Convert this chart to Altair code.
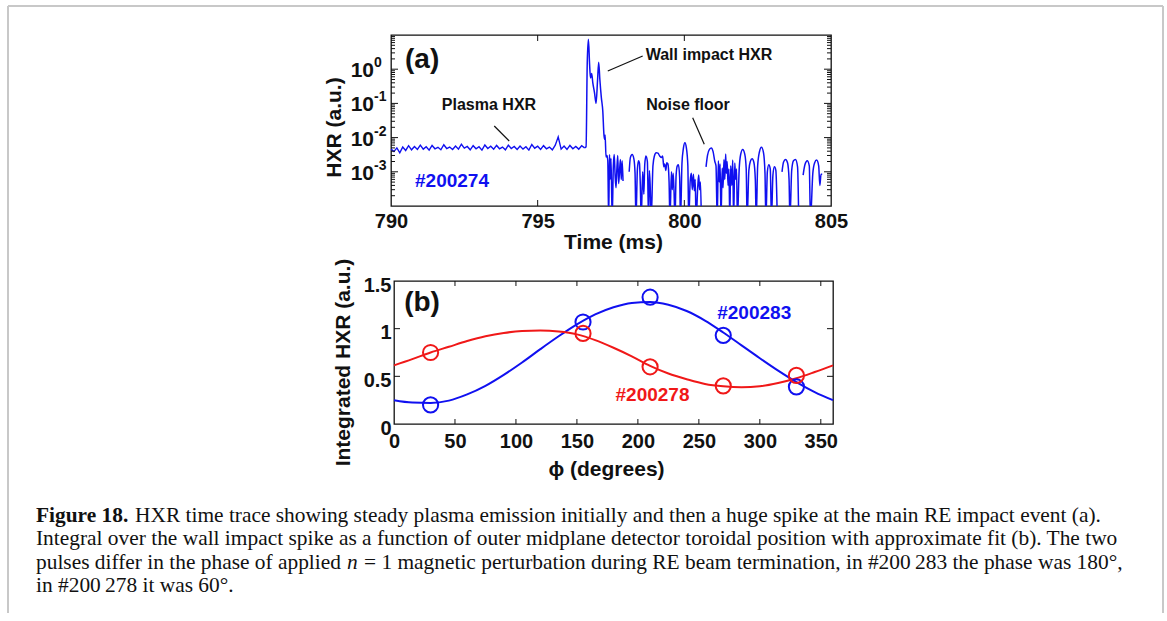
import altair as alt
import pandas as pd

SANS = "Liberation Sans, Arial, Helvetica, sans-serif"
SERIF = "Liberation Serif, Times New Roman, serif"
BLUE = "#1010f0"
RED = "#f01818"
INK = "#111111"
FRAME = "#c8c8c8"

# ---------------- panel (a): HXR time trace, shot #200274 ----------------
T_BASE = [790.0, 790.1, 790.2, 790.3, 790.4, 790.5, 790.6, 790.7, 790.8, 790.9,
          791.0, 791.1, 791.2, 791.3, 791.4, 791.5, 791.6, 791.7, 791.8, 791.9,
          792.0, 792.1, 792.2, 792.3, 792.4, 792.5, 792.6, 792.7, 792.8, 792.9,
          793.0, 793.1, 793.2, 793.3, 793.4, 793.5, 793.6, 793.7, 793.8, 793.9,
          794.0, 794.1, 794.2, 794.3, 794.4, 794.5, 794.6, 794.7, 794.8, 794.9,
          795.0, 795.1, 795.2, 795.3, 795.4, 795.5, 795.6, 795.7, 795.8, 795.9,
          796.0, 796.1, 796.2, 796.3, 796.4, 796.5, 796.6]
V_BASE = [0.0046, 0.0039, 0.0050, 0.0036, 0.0053, 0.0042, 0.0058, 0.0044, 0.0055, 0.0045,
          0.0060, 0.0046, 0.0054, 0.0043, 0.0059, 0.0047, 0.0052, 0.0044, 0.0062, 0.0048,
          0.0053, 0.0045, 0.0057, 0.0046, 0.0064, 0.0049, 0.0055, 0.0044, 0.0058, 0.0047,
          0.0054, 0.0043, 0.0061, 0.0048, 0.0056, 0.0046, 0.0059, 0.0047, 0.0053, 0.0044,
          0.0060, 0.0048, 0.0055, 0.0045, 0.0057, 0.0046, 0.0054, 0.0043, 0.0063, 0.0049,
          0.0056, 0.0045, 0.0058, 0.0047, 0.0053, 0.0044, 0.0060, 0.0105, 0.0046, 0.0057,
          0.0045, 0.0059, 0.0047, 0.0055, 0.0046, 0.0058, 0.0050]

T_SPIKE = [796.65, 796.69, 796.73, 796.77, 796.80, 796.84, 796.88, 796.94, 796.99,
           797.04, 797.08, 797.12, 797.17, 797.22, 797.26, 797.28, 797.30]
V_SPIKE = [0.0054, 1.5, 7.5, 1.4, 0.55, 0.75, 0.40, 0.20, 0.10,
           0.45, 1.6, 0.5, 0.15, 0.06, 0.012, 0.009, 0.012]

# noise floor after the impact (None = no sample / gap, 4e-5 = below the axis)
T_NOISE = [797.33, 797.36, 797.39, 797.42, 797.45, 797.47, 797.50, 797.54, 797.58, 797.61,
           797.64, 797.67, 797.70, 797.73, 797.76, 797.79, 797.82, 797.85, 797.88, 797.91,
           797.95, 798.12, 798.16, 798.22, 798.28, 798.32, 798.35, 798.40, 798.44, 798.47,
           798.50, 798.53, 798.58, 798.62, 798.65, 798.69, 798.74, 798.78, 798.81, 798.84,
           798.87, 798.93, 798.98, 799.04, 799.10, 799.16, 799.22, 799.26, 799.30, 799.33,
           799.37, 799.40, 799.44, 799.48, 799.51, 799.56, 799.59, 799.62, 799.65, 799.68,
           799.72, 799.76, 799.80, 799.84, 799.87, 799.92, 799.97, 800.02, 800.07, 800.12,
           800.15, 800.20, 800.24, 800.27, 800.31, 800.34, 800.37, 800.40, 800.46, 800.49,
           800.52, 800.55, 800.58, 800.62, 800.74, 800.79, 800.86, 800.92, 800.98, 801.04,
           801.08, 801.12, 801.16, 801.19, 801.22, 801.25, 801.29, 801.32, 801.35, 801.38,
           801.41, 801.43, 801.46, 801.49, 801.52, 801.55, 801.58, 801.62, 801.65, 801.68,
           801.72, 801.75, 801.78, 801.81, 801.87, 801.92, 801.99, 802.06, 802.11, 802.14,
           802.20, 802.25, 802.31, 802.37, 802.42, 802.45, 802.50, 802.56, 802.63, 802.70,
           802.75, 802.78, 802.83, 802.88, 802.93, 802.97, 803.02, 803.07, 803.12, 803.17,
           803.22, 803.33, 803.38, 803.45, 803.52, 803.57, 803.60, 803.66, 803.72, 803.79,
           803.86, 803.90, 803.97, 804.05, 804.11, 804.19, 804.26, 804.30, 804.38, 804.44,
           804.51, 804.58, 804.62, 804.66, 804.70]
V_NOISE = [0.0027, 0.0030, 0.0022, 4e-5, 0.0032, 0.0006, 0.0025, 4e-5, 0.0015, 0.0032,
           0.0008, 0.00034, 0.0012, 0.0030, 0.00045, 0.0010, 0.0023, 0.0006, 0.0021, 0.00054,
           None, 0.0010, 0.0026, 0.0032, 0.0024, 0.0009, 4e-5, 0.0012, 0.0021, 0.0018,
           0.0004, 4e-5, 0.0010, 0.00022, 0.0016, 0.0029, 0.0020, 4e-5, 0.0011, 0.0003,
           4e-5, 0.0015, 0.0029, 0.0036, 0.0035, 0.0029, 0.0026, 0.0029, 0.0014, 0.0017,
           0.0011, 0.00185, 0.0017, 0.0005, 4e-5, 0.0010, 0.0003, 0.0009, 0.00025, 4e-5,
           0.0008, 0.0015, 0.0016, 0.0007, 4e-5, 0.0018, 0.0050, 0.0071, 0.0050, 0.0015,
           4e-5, 0.00054, 0.0009, 0.0003, 0.00085, 0.00028, 0.0006, 4e-5, 0.0004, 0.0008,
           0.0003, 0.0005, 4e-5, None, 0.0014, 0.0030, 0.0046, 0.0050, 0.0039, 0.0020,
           0.0015, 4e-5, 0.0021, 0.0005, 0.0017, 4e-5, 0.0013, 0.00034, 0.0023, 0.0006,
           0.0033, 0.0009, 0.0020, 0.0004, 0.0012, 4e-5, 0.0015, 0.0004, 0.0022, 4e-5,
           0.0018, 0.0006, 0.0012, 4e-5, 0.0012, 0.0032, 0.0045, 0.0033, 0.0012, 4e-5,
           0.0011, 0.0020, 0.0024, 0.0019, 0.0006, 4e-5, 0.0015, 0.0038, 0.0052, 0.0036,
           0.0009, 4e-5, 0.0010, 0.0016, 0.0012, 4e-5, 0.0008, 0.0014, 0.0011, 4e-5,
           None, 0.0010, 0.0019, 0.0023, 0.0018, 0.0006, 4e-5, 0.0011, 0.0021, 0.0023,
           0.0014, 4e-5, None, 0.0008, 0.0016, 0.0021, 0.0015, 4e-5, 0.0009, 0.0018,
           0.0022, 0.0015, 0.0004, 0.00085, 0.00085]

X_LABELS_A = [790, 795, 800, 805]
X_TICKS_A = [795, 800]
Y_LABELS_A = [1.0, 0.1, 0.01, 0.001]
Y_EXP_A = ["0", "-1", "-2", "-3"]
Y_MAJOR_A = [0.001, 0.01, 0.1, 1.0]
Y_MINOR_A = [m * 10.0 ** k for k in range(-4, 1) for m in range(2, 10)]

ANN_A_TEXT = ["Plasma HXR", "Wall impact HXR", "Noise floor"]
ANN_A_T = [793.34, 800.84, 800.125]
ANN_A_V = [0.0897, 2.6, 0.0897]
LEAD_T1 = [793.52, 797.39, 800.285]
LEAD_V1 = [0.0218, 0.885, 0.0382]
LEAD_T2 = [794.03, 798.58, 800.68]
LEAD_V2 = [0.00796, 2.43, 0.00637]

# ---------------- panel (b): integrated HXR vs toroidal angle ----------------
PHI_FIT = [0, 15, 30, 45, 60, 75, 90, 105, 120, 135, 150, 165, 180,
           195, 210, 225, 240, 255, 270, 285, 300, 315, 330, 345, 360]
FIT_283 = [0.25, 0.225, 0.22, 0.245, 0.31, 0.40, 0.515, 0.645, 0.785, 0.92, 1.045, 1.15, 1.225,
           1.27, 1.28, 1.25, 1.185, 1.085, 0.96, 0.825, 0.69, 0.56, 0.44, 0.335, 0.25]
FIT_278 = [0.615, 0.68, 0.75, 0.81, 0.87, 0.92, 0.955, 0.975, 0.98, 0.97, 0.94, 0.88, 0.80,
           0.71, 0.61, 0.53, 0.47, 0.42, 0.395, 0.385, 0.395, 0.43, 0.48, 0.545, 0.615]
PHI_PTS = [30, 155, 210, 270, 330]
PTS_283 = [0.20, 1.07, 1.33, 0.93, 0.39]
PTS_278 = [0.75, 0.95, 0.60, 0.40, 0.51]
SHOTS = ["#200283", "#200278"]

X_LABELS_B = [0, 50, 100, 150, 200, 250, 300, 350]
X_TICKS_B = [50, 100, 150, 200, 250, 300, 350]
Y_LABELS_B = [0, 0.5, 1, 1.5]
Y_TICKS_B = [0.5, 1.0]

CAPTION_BOLD = "Figure 18."
CAPTION_1 = ("HXR time trace showing steady plasma emission initially and then a huge spike "
             "at the main RE impact event (a).")
CAPTION_2 = ("Integral over the wall impact spike as a function of outer midplane detector "
             "toroidal position with approximate fit (b). The two")
CAPTION_3A = "pulses differ in the phase of applied"
CAPTION_3N = "n"
CAPTION_3B = ("= 1 magnetic perturbation during RE beam termination, in #200\u2009283 "
              "the phase was 180\u00b0,")
CAPTION_4 = "in #200\u2009278 it was 60\u00b0."

# ---------------- geometry ----------------
WA, HA = 440, 171
WB, HB = 439, 143
AX = 390   # page x of panel (a) left edge
AY = 34    # page y of panel (a) top edge
BX = 393
BY = 280

lab = dict(labelFont=SANS, labelFontSize=20, labelFontWeight="bold", labelColor=INK,
           ticks=False, domain=False, grid=False, labelFlush=False, labelOverlap=False)
tit = dict(titleFont=SANS, titleFontSize=21, titleFontWeight="bold", titleColor=INK,
           titleBaseline="middle", titleAlign="center")

xa = alt.X("t:Q", scale=alt.Scale(domain=[790, 805], nice=False, zero=False),
           axis=alt.Axis(values=X_LABELS_A, format="d", labelPadding=5,
                         title="Time (ms)", titleX=222, titleY=36, **lab, **tit))
ya = alt.Y("v:Q", scale=alt.Scale(type="log", domain=[1e-4, 10], nice=False),
           axis=alt.Axis(labels=False, title="HXR (a.u.)", titleX=-57, titleY=92,
                         ticks=False, domain=False, grid=False, **tit))

# steady plasma emission: jagged, straight segments
df_base = pd.DataFrame({"t": T_BASE, "v": V_BASE})
trace_base = alt.Chart(df_base).mark_line(color=BLUE, strokeWidth=1.4, clip=True).encode(
    x=xa, y=ya)
# impact spike and noise floor: rounded humps
df_rest = pd.DataFrame({"t": T_BASE[-1:] + T_SPIKE + T_NOISE,
                        "v": V_BASE[-1:] + V_SPIKE + V_NOISE})
trace_rest = alt.Chart(df_rest).mark_line(color=BLUE, strokeWidth=1.5, clip=True,
                                          interpolate="monotone").encode(x=xa, y=ya)

df_xt = pd.DataFrame({"t": X_TICKS_A})
xt_bot = alt.Chart(df_xt).mark_rule(color=INK, strokeWidth=1).encode(
    x=xa, y=alt.value(HA), y2=alt.value(HA - 6))
xt_top = alt.Chart(df_xt).mark_rule(color=INK, strokeWidth=1).encode(
    x=xa, y=alt.value(0), y2=alt.value(6))
df_ymaj = pd.DataFrame({"v": Y_MAJOR_A})
df_ymin = pd.DataFrame({"v": Y_MINOR_A})
ymaj_l = alt.Chart(df_ymaj).mark_rule(color=INK, strokeWidth=1).encode(
    y=ya, x=alt.value(0), x2=alt.value(7))
ymaj_r = alt.Chart(df_ymaj).mark_rule(color=INK, strokeWidth=1).encode(
    y=ya, x=alt.value(WA), x2=alt.value(WA - 7))
ymin_l = alt.Chart(df_ymin).mark_rule(color=INK, strokeWidth=1).encode(
    y=ya, x=alt.value(0), x2=alt.value(4))
ymin_r = alt.Chart(df_ymin).mark_rule(color=INK, strokeWidth=1).encode(
    y=ya, x=alt.value(WA), x2=alt.value(WA - 4))

df_ylab = pd.DataFrame({"v": Y_LABELS_A, "base": ["10"] * 4, "exp": Y_EXP_A})
ylab_base = alt.Chart(df_ylab).mark_text(align="right", baseline="middle", font=SANS, fontSize=21,
                                         fontWeight="bold", color=INK, dy=2).encode(
    x=alt.value(-17), y=ya, text="base:N")
ylab_exp = alt.Chart(df_ylab).mark_text(align="left", baseline="middle", font=SANS, fontSize=14,
                                        fontWeight="bold", color=INK, dy=-6).encode(
    x=alt.value(-17), y=ya, text="exp:N")

df_ann = pd.DataFrame({"t": ANN_A_T, "v": ANN_A_V, "s": ANN_A_TEXT})
ann_a = alt.Chart(df_ann).mark_text(font=SANS, fontSize=16, fontWeight="bold", color=INK,
                                    baseline="middle").encode(x=xa, y=ya, text="s:N")
df_lead = pd.DataFrame({"t": LEAD_T1, "v": LEAD_V1, "t2": LEAD_T2, "v2": LEAD_V2})
lead = alt.Chart(df_lead).mark_rule(color=INK, strokeWidth=1.2).encode(
    x=xa, y=ya, x2="t2:Q", y2="v2:Q")
lbl_a = alt.Chart(pd.DataFrame({"t": [791.06], "v": [1.86], "s": ["(a)"]})).mark_text(
    font=SANS, fontSize=28, fontWeight="bold", color=INK, baseline="middle").encode(
    x=xa, y=ya, text="s:N")
shot_a = alt.Chart(pd.DataFrame({"t": [792.08], "v": [5.4e-4], "s": ["#200274"]})).mark_text(
    font=SANS, fontSize=19, fontWeight="bold", color=BLUE, baseline="middle").encode(
    x=xa, y=ya, text="s:N")

# page frame (light grey box around the figure)
one = pd.DataFrame({"k": [0]})
fx0, fx1, fy0, fy1 = 7 - AX, 1162 - AX, 5 - AY, 612 - AY
frame_top = alt.Chart(one).mark_rule(color=FRAME, strokeWidth=2).encode(
    x=alt.value(fx0), x2=alt.value(fx1), y=alt.value(fy0))
frame_l = alt.Chart(one).mark_rule(color=FRAME, strokeWidth=2).encode(
    x=alt.value(fx0), y=alt.value(fy0), y2=alt.value(fy1))
frame_r = alt.Chart(one).mark_rule(color=FRAME, strokeWidth=2).encode(
    x=alt.value(fx1), y=alt.value(fy0), y2=alt.value(fy1))

panel_a = alt.layer(frame_top, frame_l, frame_r, trace_base, trace_rest, xt_bot, xt_top,
                    ymaj_l, ymaj_r, ymin_l, ymin_r, ylab_base, ylab_exp, lead, ann_a,
                    lbl_a, shot_a).properties(width=WA, height=HA)

# ---------------- panel (b) ----------------
xb = alt.X("phi:Q", scale=alt.Scale(domain=[0, 360], nice=False, zero=False),
           axis=alt.Axis(values=X_LABELS_B, format="d", labelPadding=7,
                         title="\u03d5 (degrees)", titleX=212, titleY=45, **lab, **tit))
yb = alt.Y("val:Q", scale=alt.Scale(domain=[0, 1.5], nice=False, zero=False),
           axis=alt.Axis(values=Y_LABELS_B, format="~g", labelPadding=3, labelOffset=4,
                         title="Integrated HXR (a.u.)", titleX=-51, titleY=81, **lab, **tit))
cb = alt.Color("shot:N", scale=alt.Scale(domain=SHOTS, range=[BLUE, RED]), legend=None)

df_fit = pd.DataFrame({"phi": PHI_FIT * 2, "val": FIT_283 + FIT_278,
                       "shot": [SHOTS[0]] * len(PHI_FIT) + [SHOTS[1]] * len(PHI_FIT)})
df_pts = pd.DataFrame({"phi": PHI_PTS * 2, "val": PTS_283 + PTS_278,
                       "shot": [SHOTS[0]] * len(PHI_PTS) + [SHOTS[1]] * len(PHI_PTS)})
fit = alt.Chart(df_fit).mark_line(strokeWidth=2, interpolate="monotone").encode(
    x=xb, y=yb, color=cb)
pts = alt.Chart(df_pts).mark_point(shape="circle", filled=False, size=230, strokeWidth=2,
                                   opacity=1).encode(x=xb, y=yb, color=cb)

df_xtb = pd.DataFrame({"phi": X_TICKS_B})
df_ytb = pd.DataFrame({"val": Y_TICKS_B})
xtb_bot = alt.Chart(df_xtb).mark_rule(color=INK, strokeWidth=1).encode(
    x=xb, y=alt.value(HB), y2=alt.value(HB - 5))
xtb_top = alt.Chart(df_xtb).mark_rule(color=INK, strokeWidth=1).encode(
    x=xb, y=alt.value(0), y2=alt.value(5))
ytb_l = alt.Chart(df_ytb).mark_rule(color=INK, strokeWidth=1).encode(
    y=yb, x=alt.value(0), x2=alt.value(6))
ytb_r = alt.Chart(df_ytb).mark_rule(color=INK, strokeWidth=1).encode(
    y=yb, x=alt.value(WB), x2=alt.value(WB - 6))

lbl_b = alt.Chart(pd.DataFrame({"phi": [23], "val": [1.27], "s": ["(b)"]})).mark_text(
    font=SANS, fontSize=28, fontWeight="bold", color=INK, baseline="middle").encode(
    x=xb, y=yb, text="s:N")
df_shot_b = pd.DataFrame({"phi": [295.4, 212], "val": [1.164, 0.304], "shot": SHOTS})
shot_b = alt.Chart(df_shot_b).mark_text(font=SANS, fontSize=19, fontWeight="bold",
                                        baseline="middle").encode(
    x=xb, y=yb, text="shot:N", color=cb)

# caption (positions relative to panel (b) origin)
CAP_SIZE = 21.4
cx0 = 35 - BX
base_y = [521 - BY, 544 - BY, 568 - BY, 591 - BY]


def cap(text, x, y, weight="normal", style="normal"):
    return alt.Chart(pd.DataFrame({"s": [text]})).mark_text(
        font=SERIF, fontSize=CAP_SIZE, fontWeight=weight, fontStyle=style, color="#111111",
        align="left", baseline="alphabetic").encode(
        x=alt.value(x), y=alt.value(y), text="s:N")


caption = [
    cap(CAPTION_BOLD, cx0, base_y[0], weight="bold"),
    cap(CAPTION_1, cx0 + 99, base_y[0]),
    cap(CAPTION_2, cx0, base_y[1]),
    cap(CAPTION_3A, cx0, base_y[2]),
    cap(CAPTION_3N, cx0 + 311, base_y[2], style="italic"),
    cap(CAPTION_3B, cx0 + 328, base_y[2]),
    cap(CAPTION_4, cx0, base_y[3]),
]

panel_b = alt.layer(fit, pts, xtb_bot, xtb_top, ytb_l, ytb_r, lbl_b, shot_b, *caption
                    ).properties(width=WB, height=HB)

spacer = alt.Chart(one).mark_point(opacity=0).encode(
    x=alt.value(0), y=alt.value(0)).properties(
    width=1, height=1, view=alt.ViewBackground(stroke="transparent"))

row_b = alt.hconcat(spacer, panel_b, spacing=2, bounds="flush")

chart = alt.vconcat(panel_a, row_b, spacing=75, bounds="flush").properties(
    padding={"left": 6, "top": 4, "right": 0, "bottom": 0},
    background="white",
).configure_view(stroke=INK, strokeWidth=1.3)

chart.save("out.html", embed_options={"renderer": "svg", "actions": False})
